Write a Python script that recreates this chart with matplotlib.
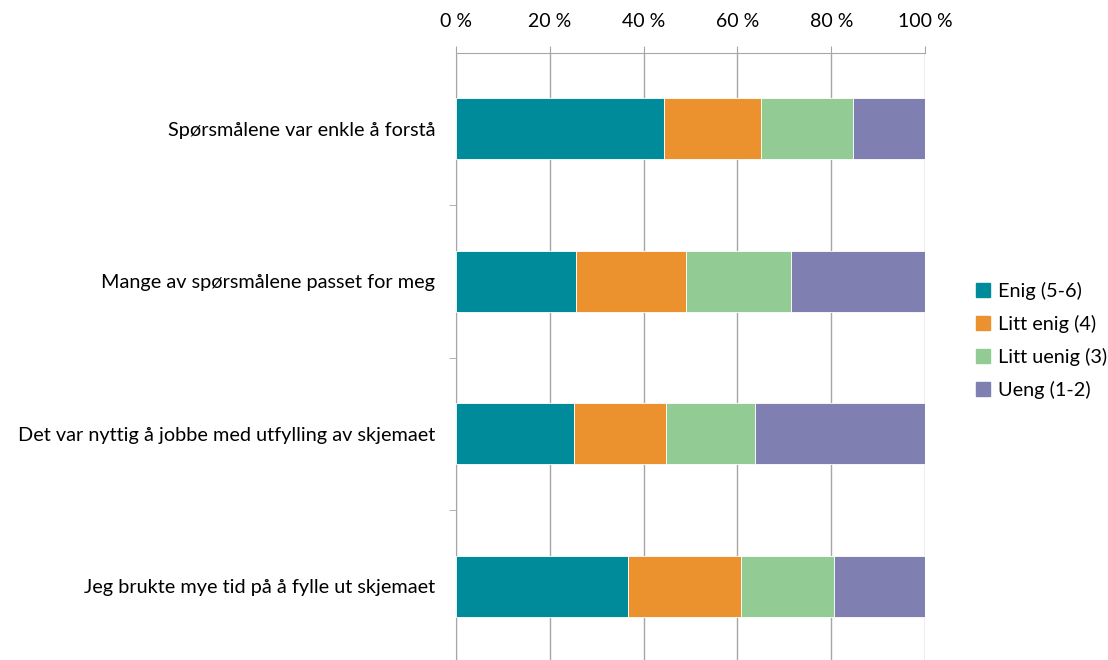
import numpy as np
import matplotlib
matplotlib.use("Agg")
from matplotlib import pyplot as plt
from matplotlib.patches import Patch

questions = ["Spørsmålene var enkle å forstå",
             "Mange av spørsmålene passet for meg",
             "Det var nyttig å jobbe med utfylling av skjemaet",
             "Jeg brukte mye tid på å fylle ut skjemaet"]
series = ["Enig (5-6)", "Litt enig (4)", "Litt uenig (3)", "Ueng (1-2)"]
enig = [44.3, 25.6, 25.2, 36.7]
litt_enig = [20.7, 23.4, 19.6, 24.1]
litt_uenig = [19.6, 22.4, 19.0, 19.8]
uenig = [15.4, 28.6, 36.2, 19.4]
colors = ["#008b9a", "#eb912d", "#93cb95", "#7f7fb1"]

plt.rcParams["font.family"] = ["Lato", "DejaVu Sans"]

fig = plt.figure(figsize=(11.08, 6.6), dpi=100)
ax = fig.add_axes([456 / 1108, 1 - 662.5 / 660, 469 / 1108, 610 / 660])

y = np.arange(len(questions))
left = np.zeros(len(questions))
for vals, c in zip([enig, litt_enig, litt_uenig, uenig], colors):
    ax.barh(y, vals, left=left, height=0.4, color=c, edgecolor="white", linewidth=0.6, zorder=3)
    left += np.array(vals)

ax.set_xlim(0, 100)
ax.set_ylim(len(questions) - 0.5, -0.5)
ax.xaxis.tick_top()
ax.set_xticks(np.arange(0, 101, 20))
ax.set_xticklabels([f"{v} %" for v in range(0, 101, 20)], fontsize=14)
ax.grid(axis="x", color="#a6a6a6", linewidth=1, zorder=0)
ax.tick_params(axis="x", length=5, color="#a6a6a6", pad=11)

ax.set_yticks(y)
ax.set_yticklabels(questions, fontsize=14.3)
ax.set_yticks(np.arange(0.5, len(questions) - 0.5), minor=True)
ax.tick_params(axis="y", which="major", length=0, pad=15)
ax.tick_params(axis="y", which="minor", length=5, color="#a6a6a6")

for s in ["right", "bottom"]:
    ax.spines[s].set_visible(False)
ax.spines["top"].set_color("#a6a6a6")
ax.spines["left"].set_color("#a6a6a6")

handles = [Patch(color=c) for c in colors]
fig.legend(handles, series, loc="upper left", bbox_to_anchor=(958 / 1108, 1 - 264 / 660),
           frameon=False, fontsize=14.3, handlelength=0.7, handleheight=0.7,
           handletextpad=0.4, labelspacing=0.75)

plt.savefig("out.png", dpi=100)
